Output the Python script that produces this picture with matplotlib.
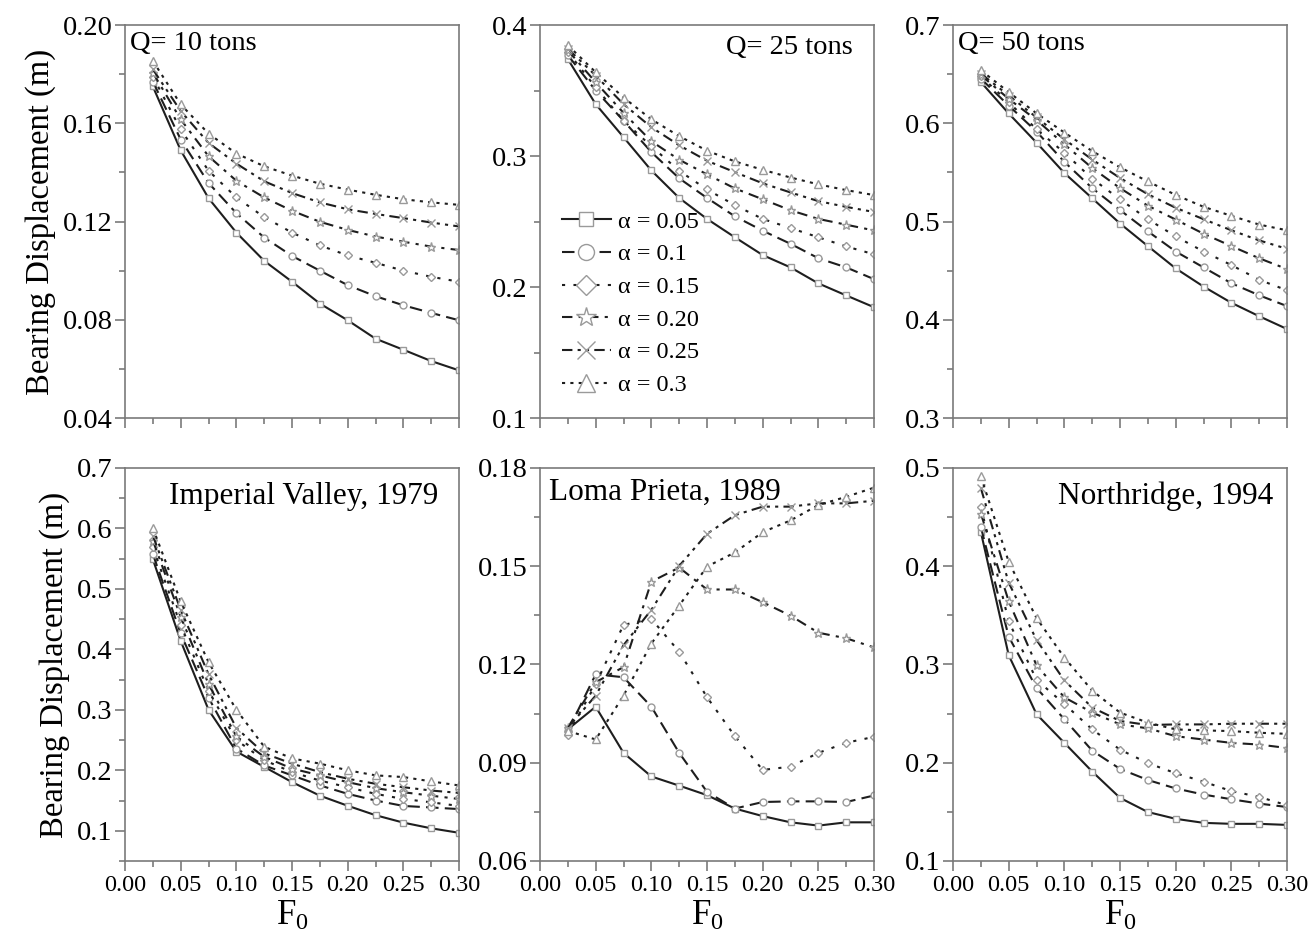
import matplotlib
matplotlib.use("Agg")
import matplotlib.pyplot as plt
from matplotlib.ticker import MultipleLocator, FormatStrFormatter

plt.rcParams['font.family'] = ['Liberation Serif', 'DejaVu Serif']
plt.rcParams['mathtext.fontset'] = 'custom'
plt.rcParams['mathtext.rm'] = 'Liberation Serif'

f0 = [0.025, 0.05, 0.075, 0.10, 0.125, 0.15, 0.175, 0.20, 0.225, 0.25, 0.275, 0.30]
alphas = ["0.05", "0.1", "0.15", "0.20", "0.25", "0.3"]

# rows: alpha = 0.05, 0.1, 0.15, 0.20, 0.25, 0.3
q10 = [
    [0.175, 0.149, 0.1295, 0.1155, 0.104, 0.0955, 0.0866, 0.0798, 0.0723, 0.0678, 0.0632, 0.0594],
    [0.177, 0.1534, 0.1357, 0.1234, 0.1135, 0.106, 0.100, 0.0941, 0.0896, 0.0859, 0.0828, 0.0798],
    [0.179, 0.1575, 0.1407, 0.1298, 0.1218, 0.1155, 0.1103, 0.1062, 0.1032, 0.100, 0.0975, 0.0955],
    [0.1806, 0.1616, 0.1466, 0.1366, 0.1298, 0.1244, 0.1199, 0.1166, 0.1139, 0.1118, 0.1098, 0.1084],
    [0.182, 0.165, 0.152, 0.1436, 0.1364, 0.1316, 0.1278, 0.125, 0.1231, 0.1214, 0.1196, 0.118],
    [0.1854, 0.1677, 0.1558, 0.1477, 0.1425, 0.1387, 0.1354, 0.133, 0.1309, 0.1291, 0.1278, 0.1268],
]
q25 = [
    [0.374, 0.3396, 0.3144, 0.289, 0.268, 0.252, 0.238, 0.2244, 0.215, 0.2028, 0.1936, 0.1846],
    [0.377, 0.350, 0.327, 0.303, 0.283, 0.268, 0.254, 0.243, 0.233, 0.222, 0.215, 0.206],
    [0.3794, 0.3524, 0.327, 0.3075, 0.2887, 0.2745, 0.2625, 0.252, 0.245, 0.238, 0.231, 0.225],
    [0.3807, 0.3563, 0.333, 0.3113, 0.2972, 0.286, 0.2753, 0.267, 0.2586, 0.252, 0.2476, 0.2432],
    [0.382, 0.3614, 0.3396, 0.322, 0.3082, 0.2964, 0.2877, 0.2792, 0.2722, 0.2656, 0.2612, 0.2573],
    [0.3846, 0.364, 0.3447, 0.328, 0.3152, 0.3041, 0.2959, 0.2895, 0.2836, 0.2784, 0.274, 0.2702],
]
q50 = [
    [0.642, 0.610, 0.5803, 0.5494, 0.5237, 0.498, 0.475, 0.4523, 0.4338, 0.4173, 0.4036, 0.3906],
    [0.6455, 0.618, 0.5916, 0.5607, 0.534, 0.5117, 0.490, 0.4695, 0.4533, 0.4372, 0.4249, 0.4139],
    [0.6479, 0.6214, 0.594, 0.570, 0.5436, 0.5226, 0.5024, 0.4849, 0.4695, 0.4557, 0.4407, 0.430],
    [0.649, 0.6249, 0.6033, 0.5786, 0.5545, 0.534, 0.5161, 0.502, 0.4876, 0.475, 0.4626, 0.4516],
    [0.6506, 0.6283, 0.606, 0.5837, 0.5631, 0.5443, 0.5278, 0.514, 0.5024, 0.4911, 0.4808, 0.4722],
    [0.654, 0.6317, 0.6101, 0.5906, 0.5717, 0.5552, 0.5408, 0.5271, 0.515, 0.5058, 0.4969, 0.4911],
]
imperial = [
    [0.549, 0.414, 0.300, 0.231, 0.2056, 0.1804, 0.158, 0.1413, 0.1257, 0.1134, 0.104, 0.0966],
    [0.5575, 0.4263, 0.320, 0.236, 0.208, 0.1916, 0.175, 0.161, 0.150, 0.141, 0.1385, 0.1358],
    [0.5687, 0.440, 0.3313, 0.250, 0.2167, 0.197, 0.183, 0.172, 0.161, 0.1525, 0.147, 0.141],
    [0.580, 0.454, 0.3425, 0.2559, 0.2223, 0.2028, 0.1916, 0.1804, 0.1704, 0.1637, 0.158, 0.1525],
    [0.588, 0.4654, 0.359, 0.270, 0.228, 0.211, 0.197, 0.186, 0.1777, 0.172, 0.1665, 0.1626],
    [0.6006, 0.4793, 0.3788, 0.300, 0.239, 0.2196, 0.211, 0.200, 0.1916, 0.1888, 0.1816, 0.1749],
]
loma = [
    [0.1002, 0.1071, 0.093, 0.0858, 0.083, 0.0801, 0.076, 0.0737, 0.0718, 0.0708, 0.0718, 0.0718],
    [0.0997, 0.117, 0.1161, 0.1071, 0.093, 0.0811, 0.076, 0.078, 0.0782, 0.0782, 0.078, 0.080],
    [0.0986, 0.114, 0.1321, 0.1339, 0.1239, 0.110, 0.0981, 0.0878, 0.0888, 0.093, 0.0961, 0.0979],
    [0.1007, 0.1146, 0.1192, 0.1453, 0.1496, 0.1429, 0.1429, 0.139, 0.1349, 0.1297, 0.128, 0.1252],
    [0.1007, 0.1105, 0.1259, 0.1367, 0.1501, 0.1599, 0.1656, 0.1682, 0.1682, 0.1692, 0.1692, 0.170],
    [0.0997, 0.0971, 0.1105, 0.1264, 0.138, 0.1499, 0.1542, 0.1604, 0.164, 0.1687, 0.1712, 0.174],
]
northridge = [
    [0.4348, 0.3094, 0.2494, 0.2202, 0.191, 0.1642, 0.1498, 0.1429, 0.1388, 0.1378, 0.1378, 0.1367],
    [0.440, 0.3283, 0.2761, 0.2442, 0.2123, 0.1937, 0.1824, 0.1738, 0.1676, 0.1628, 0.1584, 0.1549],
    [0.4605, 0.3438, 0.2844, 0.2597, 0.2339, 0.2133, 0.1996, 0.1893, 0.1807, 0.1711, 0.1652, 0.1567],
    [0.4536, 0.3644, 0.2991, 0.2665, 0.2511, 0.239, 0.235, 0.227, 0.2236, 0.2202, 0.2185, 0.215],
    [0.4794, 0.3833, 0.3249, 0.2837, 0.2562, 0.2425, 0.2384, 0.239, 0.239, 0.2397, 0.2397, 0.2397],
    [0.4914, 0.4045, 0.3472, 0.307, 0.2734, 0.251, 0.2408, 0.2339, 0.2329, 0.2322, 0.2305, 0.2294],
]

markers = ['s', 'o', 'D', '*', 'x', '^']
msizes = [4.5, 5, 4.5, 6.5, 5.5, 5.5]
styles = ['-', (0, (6, 3)), (0, (1.5, 4)), (0, (5, 3, 1.5, 3)),
          (0, (5, 2.5, 1.5, 2.5, 1.5, 2.5)), (0, (1.5, 2.5))]

# data, title, title x, title y, align, size, ylim, major, minor, format
panels = [
    (q10, "Q= 10 tons", 0.015, 0.985, 'left', 20.5, (0.04, 0.20), 0.04, 0.02, '%.2f'),
    (q25, "Q= 25 tons", 0.937, 0.975, 'right', 20.5, (0.1, 0.4), 0.1, 0.05, '%.1f'),
    (q50, "Q= 50 tons", 0.015, 0.985, 'left', 20.5, (0.3, 0.7), 0.1, 0.05, '%.1f'),
    (imperial, "Imperial Valley, 1979", 0.937, 0.965, 'right', 22.5, (0.05, 0.7), 0.1, 0.05, '%.1f'),
    (loma, "Loma Prieta, 1989", 0.027, 0.975, 'left', 22.5, (0.06, 0.18), 0.03, 0.015, '%.2f'),
    (northridge, "Northridge, 1994", 0.958, 0.965, 'right', 22.5, (0.1, 0.5), 0.1, 0.05, '%.1f'),
]

fig = plt.figure(figsize=(13.12, 9.39), dpi=100)
lefts = [0.0953, 0.4116, 0.7264]
bottoms = [0.5548, 0.0831]
w, h = 0.2546, 0.4185
spine_col = '#7a7a7a'

for i, (data, title, tx, ty, ha, tsize, ylim, major, minor, fmt) in enumerate(panels):
    row, col = divmod(i, 3)
    ax = fig.add_axes([lefts[col], bottoms[row], w, h])
    for k in range(6):
        ax.plot(f0, data[k], color='#1e1e1e', lw=1.5, linestyle=styles[k],
                marker=markers[k], ms=msizes[k], mfc='white', mec='#9a9a9a',
                mew=1.0, label="α = " + alphas[k])
    ax.set_xlim(0, 0.30)
    ax.set_ylim(*ylim)
    ax.xaxis.set_major_locator(MultipleLocator(0.05))
    ax.xaxis.set_minor_locator(MultipleLocator(0.025))
    ax.yaxis.set_major_locator(MultipleLocator(major))
    ax.yaxis.set_minor_locator(MultipleLocator(minor))
    ax.yaxis.set_major_formatter(FormatStrFormatter(fmt))
    ax.xaxis.set_major_formatter(FormatStrFormatter('%.2f'))
    for s in ax.spines.values():
        s.set_color(spine_col)
        s.set_linewidth(1.2)
    ax.tick_params(which='both', direction='out', color=spine_col, width=1.2,
                   top=False, right=False)
    ax.tick_params(which='major', length=7)
    ax.tick_params(which='minor', length=4)
    ax.tick_params(axis='y', labelsize=20.5, pad=2)
    ax.tick_params(axis='x', labelsize=17.5, pad=3)
    if row == 0:
        ax.tick_params(axis='x', labelbottom=False)
    else:
        ax.set_xlabel(r'$\mathrm{F_0}$', fontsize=25, labelpad=3)
    if col == 0:
        ax.set_ylabel('Bearing Displacement (m)', fontsize=23.5, labelpad=5)
    ax.text(tx, ty, title, transform=ax.transAxes, fontsize=tsize,
            ha=ha, va='top')
    if i == 1:
        ax.legend(loc='lower left', bbox_to_anchor=(0.0, 0.0), frameon=False,
                  fontsize=17.5, markerscale=2.3, handlelength=2.0,
                  handletextpad=0.3, labelspacing=0.44, borderaxespad=0.5)

fig.savefig('out.png', dpi=100)
